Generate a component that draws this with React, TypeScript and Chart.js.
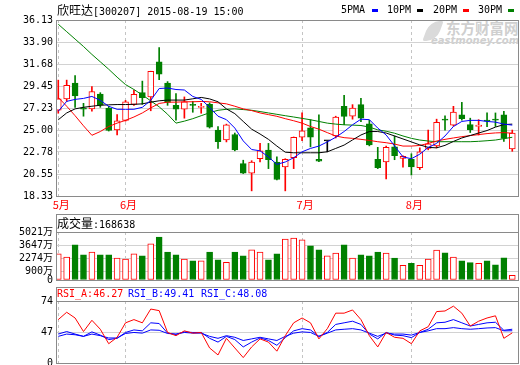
import React, { useEffect, useRef } from "react";
import { Chart, registerables } from "chart.js";

Chart.register(...registerables);

// ---------- data ----------
const monthTickIndex = [0, 8, 29, 42];
const monthLabels = ["5月", "6月", "7月", "8月"];
const priceTicks = [18.33, 20.55, 22.78, 25.0, 27.23, 29.45, 31.68, 33.9, 36.13];
const volumeTicks = [0, 900, 2274, 3647, 5021];
const rsiTicks = [20, 47, 74];
const rsiTickLabels = ["0", "47", "74"];

const openP = [27.0, 28.16, 29.74, 27.25, 27.14, 28.64, 27.2, 25.02, 25.98, 27.6, 28.78, 28.35, 31.9, 29.75, 27.5, 27.1, 27.6, 27.3, 27.6, 25.0, 24.0, 24.55, 21.6, 20.65, 22.1, 22.97, 21.77, 21.26, 22.21, 24.27, 25.22, 22.05, 23.9, 24.4, 27.4, 26.4, 27.57, 25.62, 22.05, 21.77, 23.3, 22.12, 22.05, 21.19, 23.14, 23.4, 26.05, 25.5, 26.55, 25.55, 25.36, 25.95, 26.05, 26.55, 23.1];
const closeP = [28.16, 29.53, 28.44, 27.1, 28.88, 27.51, 24.95, 25.94, 27.85, 28.6, 28.27, 30.93, 30.65, 27.8, 27.1, 27.85, 27.5, 27.4, 25.3, 23.83, 25.52, 23.0, 20.65, 21.75, 22.9, 22.0, 20.0, 22.04, 24.27, 24.92, 24.27, 21.85, 23.9, 26.32, 26.38, 27.23, 26.2, 23.5, 21.2, 23.24, 22.4, 22.35, 21.27, 22.8, 23.6, 25.77, 26.0, 26.82, 26.15, 25.05, 25.5, 25.9, 26.0, 24.15, 24.7];
const highP = [30.05, 30.05, 30.5, 27.7, 29.4, 28.78, 27.4, 26.56, 28.0, 29.05, 29.95, 30.95, 33.35, 29.9, 28.7, 28.35, 27.9, 27.7, 27.75, 25.35, 25.6, 24.7, 21.95, 21.9, 23.65, 23.65, 22.3, 22.1, 24.3, 26.73, 26.05, 26.55, 23.9, 26.4, 28.5, 27.57, 28.2, 26.0, 23.25, 23.38, 24.4, 22.4, 22.6, 23.2, 25.0, 26.1, 26.45, 27.4, 27.8, 26.2, 26.05, 26.73, 26.73, 26.9, 25.0];
const lowP = [26.7, 27.9, 27.3, 26.4, 26.9, 27.3, 24.9, 24.5, 25.9, 27.5, 27.6, 26.95, 30.1, 27.5, 26.0, 26.2, 26.8, 26.7, 25.2, 23.15, 23.8, 22.9, 20.6, 18.85, 21.77, 21.1, 19.95, 18.85, 21.1, 23.92, 23.3, 21.8, 22.8, 24.2, 25.55, 26.1, 25.85, 23.4, 21.1, 20.06, 22.0, 21.25, 20.45, 21.0, 23.0, 23.2, 25.0, 25.4, 26.0, 24.75, 24.5, 25.35, 25.36, 23.85, 22.85];

const ma5 = [26.9, 27.9, 28.1, 28.2, 28.4, 28.0, 27.4, 27.1, 27.1, 27.1, 27.3, 28.0, 29.2, 29.25, 29.1, 29.05, 28.4, 28.1, 27.3, 26.4, 26.05, 25.2, 23.9, 23.03, 22.9, 22.28, 21.53, 21.77, 22.2, 22.8, 23.14, 23.38, 23.8, 24.27, 24.85, 25.53, 26.1, 26.05, 25.2, 24.5, 23.4, 22.28, 22.1, 22.56, 23.24, 23.65, 24.4, 25.36, 25.87, 25.98, 25.98, 25.87, 25.8, 25.6, 25.5];
const ma10 = [26.04, 26.73, 27.14, 27.3, 27.41, 27.51, 27.55, 27.58, 27.58, 27.6, 27.65, 27.82, 27.96, 28.03, 28.03, 28.03, 28.16, 28.3, 28.15, 27.86, 27.14, 26.66, 25.87, 25.09, 24.6, 24.06, 23.38, 22.76, 22.7, 22.7, 22.7, 22.7, 22.8, 23.14, 23.48, 24.0, 24.5, 24.85, 24.85, 24.7, 24.4, 24.1, 23.8, 23.5, 23.25, 23.2, 23.45, 23.85, 24.2, 24.45, 24.7, 24.95, 25.3, 25.55, 25.6];
const ma20 = [28.3, 27.41, 26.45, 25.43, 24.47, 24.85, 25.36, 25.7, 25.98, 26.32, 26.73, 27.24, 27.69, 27.82, 27.82, 27.86, 27.86, 27.89, 27.86, 27.75, 27.65, 27.41, 27.14, 26.97, 26.73, 26.56, 26.39, 26.15, 25.94, 25.7, 25.36, 25.09, 24.74, 24.4, 24.23, 24.16, 24.06, 23.95, 23.82, 23.72, 23.58, 23.38, 23.38, 23.44, 23.65, 23.89, 24.06, 24.2, 24.33, 24.44, 24.54, 24.64, 24.71, 24.74, 24.68];
const ma30 = [35.7, 34.95, 34.2, 33.45, 32.65, 31.9, 31.15, 30.35, 29.6, 29.1, 28.55, 27.95, 27.35, 26.6, 25.7, 25.9, 26.15, 26.45, 26.75, 27.0, 27.1, 27.14, 27.07, 27.0, 26.87, 26.73, 26.59, 26.45, 26.32, 26.18, 26.04, 25.87, 25.7, 25.6, 25.53, 25.5, 25.46, 25.3, 25.02, 24.88, 24.68, 24.4, 24.16, 23.99, 23.89, 23.82, 23.82, 23.82, 23.82, 23.82, 23.86, 23.92, 23.99, 24.13, 24.27];
const maNames = ["5PMA", "10PM", "20PM", "30PM"];
const maColors = ["#0000ff", "#000000", "#ff0000", "#008000"];

const volume = [2738, 2390, 3686, 2633, 2915, 2633, 2633, 2283, 2177, 2738, 2527, 3791, 4493, 2915, 2633, 2177, 2000, 2000, 2915, 2106, 1860, 2915, 2527, 3159, 2915, 2106, 2738, 4283, 4388, 4212, 3580, 3159, 2527, 2809, 3686, 2283, 2633, 2527, 2915, 2809, 2283, 1545, 1755, 1545, 2177, 3124, 2843, 2390, 2000, 1825, 1755, 2000, 1580, 2317, 495];
const lastVolume = "168638";

const rsiA = [57.8, 64.2, 59.2, 47.4, 57.2, 49.4, 36.8, 42.4, 55.0, 57.8, 55.0, 67.0, 65.6, 46.6, 43.8, 48.0, 46.0, 46.6, 33.1, 27.0, 41.5, 33.1, 24.7, 34.0, 41.0, 38.2, 30.3, 43.8, 55.0, 59.2, 55.0, 41.0, 49.9, 63.4, 63.4, 66.2, 57.8, 43.8, 34.0, 46.6, 42.4, 41.5, 36.8, 48.0, 51.6, 64.8, 65.3, 69.5, 63.4, 52.2, 56.4, 59.2, 61.1, 41.5, 46.27];
const rsiB = [45.2, 47.4, 45.2, 43.2, 47.1, 44.3, 40.4, 41.5, 46.6, 48.8, 48.0, 55.0, 54.4, 46.0, 44.9, 47.1, 46.6, 46.6, 41.5, 38.2, 43.2, 40.4, 34.0, 38.2, 41.8, 39.6, 35.4, 42.1, 48.0, 49.9, 48.8, 43.2, 46.6, 53.6, 55.0, 56.4, 53.6, 45.2, 41.0, 46.6, 44.3, 43.8, 42.1, 46.6, 49.4, 55.0, 55.5, 57.8, 55.0, 52.2, 53.6, 55.0, 55.5, 48.5, 49.41];
const rsiC = [43.2, 45.2, 44.6, 43.2, 45.2, 43.8, 41.8, 41.8, 45.7, 46.6, 46.0, 48.8, 48.5, 45.7, 45.2, 46.6, 46.0, 46.0, 43.2, 41.5, 43.8, 42.4, 39.6, 41.0, 42.4, 41.0, 39.6, 43.2, 46.0, 47.1, 46.6, 43.2, 46.0, 48.8, 49.4, 49.9, 48.8, 46.0, 43.2, 46.0, 45.2, 45.2, 44.3, 46.6, 48.0, 49.9, 49.9, 50.8, 49.9, 49.4, 49.9, 50.5, 50.8, 48.0, 48.08];
const rsiNames = ["RSI_A", "RSI_B", "RSI_C"];
const rsiColors = ["#ff0000", "#0000ff", "#0000ff"];

const stockTitle = "欣旺达";
const stockInfo = "[300207] 2015-08-19 15:00";

// ---------- styles ----------
const RED = "#ff0000";
const GREEN = "#008000";
const BLACK = "#000000";
const FRAME = "#8a8a8a";
const GRID = "#d2d2d2";
const DASH = "#c4c4c4";
const NUM_FONT = '"DejaVu Sans Mono", "Noto Sans CJK SC", monospace';
const CJK_FONT = '"Noto Sans CJK SC", "DejaVu Sans", sans-serif';
const X_MIN = -0.27;
const X_MAX = 54.8;

const idx = openP.map((_, i) => i);
const candleColor = (i: number) =>
  closeP[i] > openP[i] ? RED : closeP[i] < openP[i] ? GREEN : BLACK;
const bodyFill = (i: number) =>
  closeP[i] > openP[i] ? "#ffffff" : candleColor(i);
const volUp = (i: number) => closeP[i] >= openP[i];

const framePlugin = (header: number) => ({
  id: "frame" + header,
  afterDraw(chart: any) {
    const { ctx, chartArea: a } = chart;
    ctx.save();
    ctx.strokeStyle = FRAME;
    ctx.lineWidth = 1;
    const l = Math.round(a.left) + 0.5;
    const r = Math.round(a.right) - 0.5;
    const t = Math.round(a.top - header) + 0.5;
    const b = Math.round(a.bottom) + 0.5;
    ctx.strokeRect(l, t, r - l, b - t);
    if (header > 0) {
      const s = Math.round(a.top) + 0.5;
      ctx.beginPath();
      ctx.moveTo(l, s);
      ctx.lineTo(r, s);
      ctx.stroke();
    }
    ctx.restore();
  },
});

const xScale = (showLabels: boolean, height: number) => ({
  type: "linear",
  min: X_MIN,
  max: X_MAX,
  offset: false,
  afterBuildTicks: (s: any) => {
    s.ticks = monthTickIndex.map((v) => ({ value: v }));
  },
  afterFit: (s: any) => {
    s.height = height;
  },
  ticks: {
    display: showLabels,
    autoSkip: false,
    maxRotation: 0,
    labelOffset: 3,
    padding: 2,
    color: RED,
    font: { family: CJK_FONT, size: 11 },
    callback: (v: any) => monthLabels[monthTickIndex.indexOf(Number(v))] ?? "",
  },
  grid: { color: DASH, drawTicks: false, offset: false, lineWidth: 1 },
  border: { display: false, dash: [3, 3] },
});

const yScale = (min: number, max: number, ticks: number[], fmt: (v: number) => string) => ({
  type: "linear",
  min,
  max,
  afterBuildTicks: (s: any) => {
    s.ticks = ticks.map((v) => ({ value: v }));
  },
  afterFit: (s: any) => {
    s.width = 56;
  },
  ticks: {
    padding: 3,
    autoSkip: false,
    color: "#000",
    font: { family: NUM_FONT, size: 10, lineHeight: 1 },
    callback: (v: any) => fmt(Number(v)),
  },
  grid: { color: GRID, drawTicks: false, lineWidth: 1 },
  border: { display: false },
});

const baseOptions = {
  responsive: false,
  animation: false,
  events: [],
  plugins: { legend: { display: false }, tooltip: { enabled: false } },
};

function mainConfig(): any {
  const lines = [ma5, ma10, ma20, ma30].map((arr, k) => ({
    type: "line",
    label: maNames[k],
    data: idx.map((i) => ({ x: i, y: arr[i] })),
    borderColor: maColors[k],
    borderWidth: 1,
    pointRadius: 0,
    tension: 0,
    fill: false,
    order: 0,
  }));
  return {
    type: "bar",
    data: {
      datasets: [
        ...lines,
        {
          type: "bar",
          label: "body",
          data: idx.map((i) => ({ x: i, y: [openP[i], closeP[i]] })),
          backgroundColor: idx.map(bodyFill),
          borderColor: idx.map(candleColor),
          borderWidth: 1,
          borderSkipped: false,
          barThickness: 6,
          minBarLength: 1,
          grouped: false,
          order: 1,
        },
        {
          type: "bar",
          label: "wick",
          data: idx.map((i) => ({ x: i, y: [lowP[i], highP[i]] })),
          backgroundColor: idx.map(candleColor),
          borderWidth: 0,
          barThickness: 1,
          grouped: false,
          order: 2,
        },
      ],
    },
    options: {
      ...baseOptions,
      layout: { padding: { top: 20, right: 1, left: 0, bottom: 0 } },
      scales: {
        x: xScale(true, 14),
        y: yScale(18.33, 36.13, priceTicks, (v) => v.toFixed(2)),
      },
    },
    plugins: [framePlugin(0)],
  };
}

function volConfig(): any {
  return {
    type: "bar",
    data: {
      datasets: [
        {
          label: "成交量",
          data: idx.map((i) => ({ x: i, y: volume[i] })),
          backgroundColor: idx.map((i) => (volUp(i) ? "#ffffff" : GREEN)),
          borderColor: idx.map((i) => (volUp(i) ? RED : GREEN)),
          borderWidth: 1,
          borderSkipped: false,
          barThickness: 6,
          grouped: false,
        },
      ],
    },
    options: {
      ...baseOptions,
      layout: { padding: { top: 20, right: 1, left: 0, bottom: 8 } },
      scales: {
        x: xScale(false, 0),
        y: yScale(0, 5021, volumeTicks, (v) => (v === 0 ? "0" : v + "万")),
      },
    },
    plugins: [framePlugin(18)],
  };
}

function rsiConfig(): any {
  return {
    type: "line",
    data: {
      datasets: [rsiA, rsiB, rsiC].map((arr, k) => ({
        label: rsiNames[k],
        data: idx.map((i) => ({ x: i, y: arr[i] })),
        borderColor: rsiColors[k],
        borderWidth: 1,
        pointRadius: 0,
        tension: 0,
        fill: false,
      })),
    },
    options: {
      ...baseOptions,
      layout: { padding: { top: 17, right: 1, left: 0, bottom: 10 } },
      scales: {
        x: xScale(false, 0),
        y: yScale(20, 74, rsiTicks, (v) => rsiTickLabels[rsiTicks.indexOf(v)] ?? ""),
      },
    },
    plugins: [framePlugin(14)],
  };
}

const txt: React.CSSProperties = {
  position: "absolute",
  whiteSpace: "nowrap",
  fontFamily: NUM_FONT,
  fontSize: 10,
  lineHeight: "12px",
  color: "#000",
};

export default function App() {
  const mainRef = useRef<HTMLCanvasElement>(null);
  const volRef = useRef<HTMLCanvasElement>(null);
  const rsiRef = useRef<HTMLCanvasElement>(null);

  useEffect(() => {
    const charts = [
      new Chart(mainRef.current as HTMLCanvasElement, mainConfig()),
      new Chart(volRef.current as HTMLCanvasElement, volConfig()),
      new Chart(rsiRef.current as HTMLCanvasElement, rsiConfig()),
    ];
    return () => charts.forEach((c) => c.destroy());
  }, []);

  const legendX = [341, 387, 433, 478];
  const rsiHeadX = [57, 128, 201];
  const rsiLast = [rsiA, rsiB, rsiC].map((a) => a[a.length - 1].toFixed(2));

  return (
    <div style={{ position: "fixed", left: 0, top: 0, width: 520, height: 365, background: "#fff", overflow: "hidden" }}>
      {/* watermark */}
      <div style={{ position: "absolute", left: 446, top: 20, fontFamily: CJK_FONT, fontWeight: 700, fontSize: 14.5, lineHeight: "16px", color: "#cfcfcf", letterSpacing: 0 }}>东方财富网</div>
      <div style={{ position: "absolute", left: 431, top: 36, fontFamily: '"DejaVu Sans", sans-serif', fontWeight: 700, fontStyle: "italic", fontSize: 10, lineHeight: "10px", color: "#cfcfcf" }}>eastmoney.com</div>
      <div style={{ position: "absolute", left: 426, top: 21, width: 14, height: 20, borderRadius: "10px 2px 10px 2px", background: "#dadada", transform: "skewX(-20deg)" }} />

      <canvas ref={mainRef} width={520} height={210} style={{ position: "absolute", left: 0, top: 0, width: 520, height: 210 }} />
      <canvas ref={volRef} width={520} height={76} style={{ position: "absolute", left: 0, top: 212, width: 520, height: 76 }} />
      <canvas ref={rsiRef} width={520} height={89} style={{ position: "absolute", left: 0, top: 284, width: 520, height: 89 }} />

      {/* title */}
      <div style={{ ...txt, left: 57, top: 4 }}>
        <span style={{ fontFamily: CJK_FONT, fontSize: 12 }}>{stockTitle}</span>
        <span>{stockInfo}</span>
      </div>

      {/* legend */}
      {maNames.map((n, k) => (
        <React.Fragment key={n}>
          <div style={{ ...txt, left: legendX[k], top: 4 }}>{n}</div>
          <div style={{ position: "absolute", left: legendX[k] + (k === 0 ? 31 : 30), top: 9, width: 6, height: 3, background: maColors[k] }} />
        </React.Fragment>
      ))}

      {/* volume header */}
      <div style={{ ...txt, left: 57, top: 217 }}>
        <span style={{ fontFamily: CJK_FONT, fontSize: 12 }}>成交量</span>
        <span>:{lastVolume}</span>
      </div>

      {/* rsi header */}
      {rsiNames.map((n, k) => (
        <div key={n} style={{ ...txt, left: rsiHeadX[k], top: 288, color: rsiColors[k] }}>
          {n}:{rsiLast[k]}
        </div>
      ))}
    </div>
  );
}
